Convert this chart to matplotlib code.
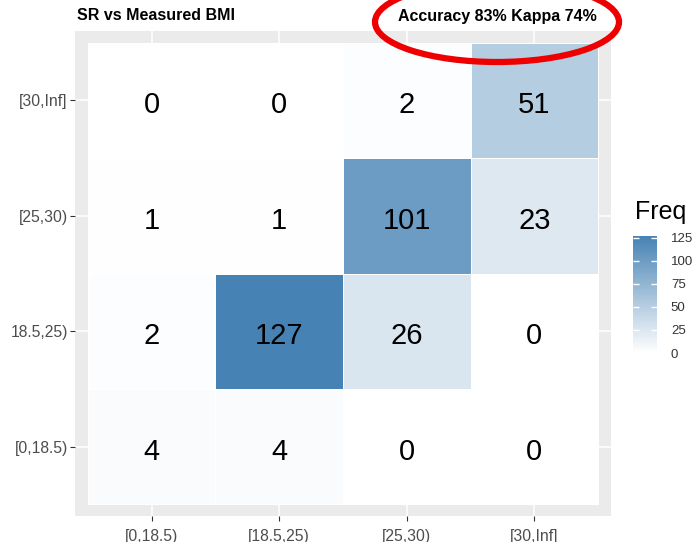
import numpy as np
import matplotlib
matplotlib.use('Agg')
import matplotlib.pyplot as plt
from matplotlib.colors import LinearSegmentedColormap
from matplotlib.patches import Ellipse

plt.rcParams['font.family'] = ['Liberation Sans', 'DejaVu Sans']

# categories (bottom -> top for y, left -> right for x)
x_labels = ['[0,18.5)', '[18.5,25)', '[25,30)', '[30,Inf]']
y_labels = ['[0,18.5)', '18.5,25)', '[25,30)', '[30,Inf]']   # bracket missing in the source image

# counts, one list per y row, bottom row first
row_0_18 = [4, 4, 0, 0]
row_18_25 = [2, 127, 26, 0]
row_25_30 = [1, 1, 101, 23]
row_30_inf = [0, 0, 2, 51]

freq = np.array([row_0_18, row_18_25, row_25_30, row_30_inf])
cbar_ticks = [0, 25, 50, 75, 100, 125]

W, H = 692, 542
fig = plt.figure(figsize=(W / 100, H / 100), dpi=100)

# panel in pixel terms converted to figure fraction
ax = fig.add_axes([75 / W, 1 - 516 / H, (611 - 75) / W, (516 - 31) / H])
ax.set_facecolor('#EBEBEB')
for s in ax.spines.values():
    s.set_visible(False)
ax.set_axisbelow(True)
ax.grid(color='white', linewidth=1.1)

cmap = LinearSegmentedColormap.from_list('white_steel', ['white', 'steelblue'])
edges = np.arange(len(x_labels) + 1) - 0.5
mesh = ax.pcolormesh(edges, edges, freq, cmap=cmap, vmin=0, vmax=freq.max(),
                     edgecolors='white', linewidth=0.6)

for i in range(freq.shape[0]):
    for j in range(freq.shape[1]):
        ax.annotate(str(freq[i, j]), (j, i), xytext=(0, -5), textcoords='offset pixels',
                    ha='center', va='center', fontsize=21, color='black')

ax.set_xlim(-0.6, 3.6)
ax.set_ylim(-0.6, 3.6)
ax.set_xticks(range(len(x_labels)))
ax.set_xticklabels(x_labels)
ax.set_yticks(range(len(y_labels)))
ax.set_yticklabels(y_labels)
ax.tick_params(axis='both', length=3.5, width=0.8, color='#333333',
               labelcolor='#4D4D4D', labelsize=11.3)
ax.tick_params(axis='y', pad=1.8)
ax.tick_params(axis='x', pad=5.5)

# colour bar
cax = fig.add_axes([633 / W, 1 - 353 / H, 24 / W, 117 / H])
cb = fig.colorbar(mesh, cax=cax, ticks=cbar_ticks)
cb.outline.set_visible(False)
cax.tick_params(axis='y', direction='in', left=True, right=True, length=4.5, width=1,
                color='white', labelcolor='#333333', labelsize=9.5, pad=10)

fig.text(635 / W, 1 - 212 / H, 'Freq', fontsize=18, va='center', ha='left')

# titles
fig.text(77 / W, 1 - 16 / H, 'SR vs Measured BMI', fontsize=11.5, fontweight='bold',
         va='center', ha='left')
fig.text(597 / W, 1 - 16 / H, 'Accuracy 83% Kappa 74%', fontsize=11.5, fontweight='bold',
         va='center', ha='right')

# red hand-drawn style highlight round the accuracy text
ring = Ellipse((497 / W, 1 - 22 / H), 244 / W, 80 / H, transform=fig.transFigure,
               fill=False, edgecolor='#ee0000', linewidth=4.5)
fig.patches.append(ring)

fig.savefig('out.png', dpi=100)
